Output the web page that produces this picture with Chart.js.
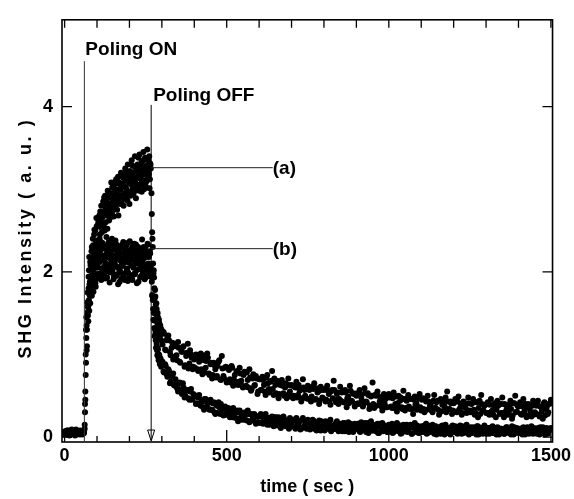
<!DOCTYPE html>
<html>
<head>
<meta charset="utf-8">
<script src="https://cdn.jsdelivr.net/npm/chart.js@4/dist/chart.umd.min.js"></script>
<style>
  html, body { margin: 0; padding: 0; background: #fff; }
  #wrap { width: 574px; height: 499px; }
</style>
</head>
<body>
<div id="wrap"><canvas id="c" width="574" height="499"></canvas></div>
<script>
// ---------- axis ticks ----------
const xTicks = [0, 500, 1000, 1500];
const xMinorTicks = [0,100,200,300,400,500,600,700,800,900,1000,1100,1200,1300,1400,1500];
const yTicks = [0, 2, 4];

// ---------- annotations (time in sec, intensity in a.u.) ----------
const polingOnTime = 61;
const polingOffTime = 267;
const labelLevelA = 3.26;
const labelLevelB = 2.28;
const labelLineEnd = 642;

// ---------- sample times (sec), first pass ----------
const timeBase = [0,5,10,15,20,25,30,35,40,45,50,55,60];
const timeRise = [62,64,66,68,70,72,74,76,78,80,82,84,86,88,90,92,94,96,98,100,
  102,104,106,108,110,112,114,116,118,120,122,124,126,128,130,132,134,136,138,140,
  142,144,146,148,150,152,154,156,158,160,162,164,166,168,170,172,174,176,178,180,
  182,184,186,188,190,192,194,196,198,200,202,204,206,208,210,212,214,216,218,220,
  222,224,226,228,230,232,234,236,238,240,242,244,246,248,250,252,254,256,258,260,
  262,264,266];
const timeFall = [268,270,272,274,276,278,280,282,284,286,288,290,292,294,296,298,300];
const timeTail = [305,310,315,320,325,330,335,340,345,350,
  355,360,365,370,375,380,385,390,395,400,
  405,410,415,420,425,430,435,440,445,450,
  455,460,465,470,475,480,485,490,495,500,
  505,510,515,520,525,530,535,540,545,550,
  555,560,565,570,575,580,585,590,595,600,
  605,610,615,620,625,630,635,640,645,650,
  655,660,665,670,675,680,685,690,695,700,
  705,710,715,720,725,730,735,740,745,750,
  755,760,765,770,775,780,785,790,795,800,
  805,810,815,820,825,830,835,840,845,850,
  855,860,865,870,875,880,885,890,895,900,
  905,910,915,920,925,930,935,940,945,950,
  955,960,965,970,975,980,985,990,995,1000,
  1005,1010,1015,1020,1025,1030,1035,1040,1045,1050,
  1055,1060,1065,1070,1075,1080,1085,1090,1095,1100,
  1105,1110,1115,1120,1125,1130,1135,1140,1145,1150,
  1155,1160,1165,1170,1175,1180,1185,1190,1195,1200,
  1205,1210,1215,1220,1225,1230,1235,1240,1245,1250,
  1255,1260,1265,1270,1275,1280,1285,1290,1295,1300,
  1305,1310,1315,1320,1325,1330,1335,1340,1345,1350,
  1355,1360,1365,1370,1375,1380,1385,1390,1395,1400,
  1405,1410,1415,1420,1425,1430,1435,1440,1445,1450,
  1455,1460,1465,1470,1475,1480,1485,1490,1495,1500];

// ---------- sample times (sec), second pass (interleaved) ----------
const timeBase2 = [2,7,12,17,22,27,32,37,42,47,52,57];
const timeRise2 = [63,65,67,69,71,73,75,77,79,81,83,85,87,89,91,93,95,97,99,101,
  103,105,107,109,111,113,115,117,119,121,123,125,127,129,131,133,135,137,139,141,
  143,145,147,149,151,153,155,157,159,161,163,165,167,169,171,173,175,177,179,181,
  183,185,187,189,191,193,195,197,199,201,203,205,207,209,211,213,215,217,219,221,
  223,225,227,229,231,233,235,237,239,241,243,245,247,249,251,253,255,257,259,261,
  263,265];
const timeFall2 = [269,271,273,275,277,279,281,283,285,287,289,291,293,295,297,299];
const timeTail2 = [302,307,312,317,322,327,332,337,342,347,
  352,357,362,367,372,377,382,387,392,397,
  402,407,412,417,422,427,432,437,442,447,
  452,457,462,467,472,477,482,487,492,497,
  502,507,512,517,522,527,532,537,542,547,
  552,557,562,567,572,577,582,587,592,597,
  602,607,612,617,622,627,632,637,642,647,
  652,657,662,667,672,677,682,687,692,697,
  702,707,712,717,722,727,732,737,742,747,
  752,757,762,767,772,777,782,787,792,797,
  802,807,812,817,822,827,832,837,842,847,
  852,857,862,867,872,877,882,887,892,897,
  902,907,912,917,922,927,932,937,942,947,
  952,957,962,967,972,977,982,987,992,997,
  1002,1007,1012,1017,1022,1027,1032,1037,1042,1047,
  1052,1057,1062,1067,1072,1077,1082,1087,1092,1097,
  1102,1107,1112,1117,1122,1127,1132,1137,1142,1147,
  1152,1157,1162,1167,1172,1177,1182,1187,1192,1197,
  1202,1207,1212,1217,1222,1227,1232,1237,1242,1247,
  1252,1257,1262,1267,1272,1277,1282,1287,1292,1297,
  1302,1307,1312,1317,1322,1327,1332,1337,1342,1347,
  1352,1357,1362,1367,1372,1377,1382,1387,1392,1397,
  1402,1407,1412,1417,1422,1427,1432,1437,1442,1447,
  1452,1457,1462,1467,1472,1477,1482,1487,1492,1497];

// ---------- series (a) SHG intensity ----------
const aBase = [0.06,0.04,0.08,0.05,0.03,0.07,0.05,0.09,0.04,0.06,0.05,0.08,0.06];
const aRise = [0.15,0.55,1.3,1.35,1.63,1.52,1.94,2.18,1.88,2.08,
  1.85,2.30,2.17,2.32,2.10,2.51,2.23,2.38,2.65,2.37,
  2.25,2.62,2.57,2.40,2.73,2.54,2.33,2.72,2.67,2.55,
  2.90,2.50,2.76,2.70,2.88,2.52,2.83,2.95,2.71,2.65,
  2.82,3.08,2.70,2.93,2.81,2.67,3.00,3.09,2.81,2.90,
  2.75,3.09,2.68,3.00,3.06,2.93,3.20,2.84,2.92,3.14,
  2.80,3.03,3.10,2.91,3.22,2.99,2.86,3.16,3.10,2.82,
  3.22,2.97,3.08,3.29,2.94,3.15,3.06,3.27,3.00,2.89,
  3.25,3.15,3.05,3.38,2.98,3.21,3.13,3.27,2.97,3.34,
  3.11,3.18,3.05,3.38,3.24,3.02,3.29,3.11,3.35,3.18,
  3.01,3.31,3.25];
const aFall = [2.95,2.48,2.30,1.98,1.93,1.68,1.70,1.49,1.55,1.38,1.45,1.29,1.38,1.22,1.32,1.17,1.27];
const aTail = [1.27,1.06,1.17,1.23,1.03,1.08,0.94,1.13,0.99,1.15,
  0.91,1.04,1.09,0.85,0.98,1.13,0.89,1.00,0.82,0.94,
  1.00,0.82,0.91,1.01,0.76,0.93,0.84,1.01,0.77,0.88,
  0.71,0.90,0.82,0.74,0.91,0.70,0.98,0.74,0.84,0.66,
  0.84,0.70,0.86,0.62,0.75,0.79,0.63,0.84,0.68,0.60,
  0.79,0.62,0.69,0.82,0.56,0.71,0.62,0.74,0.52,0.70,
  0.57,0.73,0.63,0.51,0.75,0.58,0.67,0.80,0.51,0.63,
  0.68,0.47,0.63,0.69,0.53,0.60,0.47,0.71,0.55,0.63,
  0.47,0.61,0.67,0.51,0.56,0.43,0.70,0.57,0.47,0.62,
  0.57,0.43,0.61,0.65,0.46,0.54,0.40,0.61,0.48,0.57,
  0.43,0.62,0.52,0.39,0.57,0.68,0.45,0.52,0.40,0.61,
  0.54,0.42,0.57,0.36,0.49,0.62,0.44,0.53,0.37,0.50,
  0.41,0.57,0.48,0.37,0.59,0.43,0.53,0.34,0.49,0.66,
  0.35,0.50,0.55,0.39,0.45,0.32,0.52,0.46,0.36,0.52,
  0.49,0.35,0.54,0.40,0.31,0.50,0.44,0.36,0.56,0.32,
  0.44,0.51,0.34,0.46,0.28,0.49,0.41,0.36,0.52,0.32,
  0.47,0.30,0.43,0.50,0.34,0.41,0.30,0.51,0.35,0.44,
  0.27,0.46,0.39,0.32,0.48,0.55,0.34,0.43,0.28,0.41,
  0.46,0.30,0.49,0.35,0.27,0.43,0.39,0.29,0.48,0.32,
  0.40,0.46,0.27,0.42,0.24,0.44,0.51,0.32,0.38,0.29,
  0.42,0.27,0.46,0.32,0.37,0.24,0.44,0.39,0.29,0.48,
  0.24,0.39,0.35,0.29,0.44,0.22,0.41,0.50,0.31,0.37,
  0.42,0.27,0.46,0.33,0.24,0.40,0.36,0.25,0.44,0.30,
  0.38,0.44,0.25,0.36,0.22,0.42,0.34,0.28,0.40,0.45];
const aBase2 = [0.05,0.08,0.04,0.06,0.09,0.05,0.07,0.03,0.06,0.08,0.05,0.07];
const aRise2 = [0.40,1.00,1.45,1.30,1.75,1.58,2.02,1.72,2.12,1.95,
  2.25,2.05,2.40,2.15,2.45,2.20,2.50,2.28,2.55,2.30,
  2.58,2.36,2.68,2.45,2.62,2.80,2.48,2.66,2.85,2.58,
  2.70,2.92,2.60,2.80,2.68,2.98,2.74,2.62,2.90,2.77,
  2.95,2.72,3.02,2.86,2.75,3.05,2.88,2.78,3.12,2.95,
  2.85,3.15,2.90,3.08,2.82,3.00,3.18,2.92,3.05,2.88,
  3.16,2.95,3.25,3.02,2.90,3.13,3.30,2.96,3.07,3.19,
  2.92,3.12,3.35,3.03,3.20,2.95,3.10,3.40,3.08,3.22,
  2.99,3.30,3.14,3.02,3.42,3.18,3.06,3.32,3.10,3.25,
  3.45,3.00,3.20,3.36,3.08,3.28,3.48,3.14,3.22,3.40,
  3.12,3.30];
const aFall2 = [2.70,2.40,2.10,2.02,1.80,1.78,1.60,1.62,1.47,1.50,1.36,1.42,1.30,1.35,1.25,1.30];
const aTail2 = [1.12,1.25,1.05,1.20,1.17,0.99,1.14,0.97,1.10,0.93,
  1.08,0.90,1.03,1.10,0.87,1.02,0.83,1.05,0.96,0.85,
  0.84,0.97,0.80,0.95,0.82,0.99,0.78,0.92,0.96,0.75,
  0.90,0.75,0.87,0.72,0.86,0.93,0.69,0.83,0.71,0.85,
  0.68,0.81,0.66,0.84,0.70,0.64,0.80,0.67,0.77,0.62,
  0.75,0.61,0.78,0.60,0.72,0.58,0.76,0.63,0.71,0.55,
  0.70,0.57,0.69,0.55,0.72,0.65,0.54,0.68,0.58,0.71,
  0.53,0.66,0.52,0.67,0.62,0.50,0.65,0.51,0.63,0.49,
  0.62,0.50,0.60,0.48,0.63,0.59,0.47,0.60,0.50,0.58,
  0.46,0.60,0.49,0.58,0.45,0.59,0.55,0.44,0.57,0.47,
  0.58,0.45,0.56,0.43,0.55,0.47,0.57,0.42,0.54,0.46,
  0.44,0.55,0.42,0.54,0.47,0.41,0.56,0.43,0.52,0.40,
  0.53,0.40,0.52,0.44,0.39,0.53,0.42,0.51,0.38,0.50,
  0.40,0.51,0.38,0.50,0.43,0.37,0.49,0.41,0.36,0.50,
  0.48,0.37,0.47,0.35,0.49,0.41,0.36,0.48,0.34,0.46,
  0.35,0.47,0.37,0.46,0.34,0.45,0.39,0.33,0.47,0.36,
  0.45,0.34,0.46,0.33,0.43,0.38,0.32,0.44,0.35,0.42,
  0.33,0.44,0.31,0.42,0.37,0.30,0.43,0.34,0.41,0.32,
  0.42,0.31,0.43,0.33,0.40,0.29,0.42,0.35,0.30,0.41,
  0.30,0.41,0.33,0.29,0.42,0.35,0.28,0.40,0.32,0.39,
  0.40,0.29,0.39,0.31,0.27,0.41,0.33,0.38,0.28,0.40,
  0.29,0.40,0.32,0.27,0.39,0.34,0.26,0.41,0.30,0.38,
  0.39,0.28,0.37,0.30,0.40,0.26,0.36,0.31,0.38,0.27,
  0.29,0.39,0.27,0.37,0.31,0.40,0.26,0.36,0.30,0.41];

// ---------- series (b) SHG intensity ----------
const bBase = [0.03,0.06,0.04,0.02,0.07,0.04,0.06,0.03,0.05,0.04,0.07,0.03,0.05];
const bRise = [0.10,0.45,0.9,1.05,1.49,1.47,1.80,1.53,1.76,1.93,
  1.77,1.71,2.18,1.93,2.07,1.90,2.21,1.82,2.12,2.21,
  2.06,2.31,1.96,2.21,2.13,2.36,2.04,1.95,2.29,2.19,
  2.06,2.32,1.92,2.21,2.27,2.01,2.17,2.36,2.08,1.99,
  2.25,2.13,2.40,2.03,2.20,1.94,2.30,2.15,2.07,2.33,
  1.97,2.21,2.27,2.03,1.88,2.22,2.16,2.08,2.33,1.97,
  2.23,2.11,1.90,2.28,2.18,2.03,2.35,1.99,2.14,1.94,
  2.26,2.20,2.08,1.92,2.31,2.05,2.22,1.98,2.16,2.33,
  2.02,2.10,2.27,1.88,2.19,2.24,2.06,1.95,2.21,2.13,
  2.00,2.30,2.04,2.17,1.93,2.25,2.09,2.34,2.01,2.18,
  1.97,2.22,2.07];
const bFall = [2.02,1.72,1.66,1.42,1.41,1.22,1.25,1.08,1.13,0.99,1.06,0.93,0.99,0.88,0.95,0.85,0.91];
const bTail = [0.79,0.88,0.76,0.82,0.65,0.74,0.77,0.62,0.65,0.55,
  0.66,0.55,0.65,0.48,0.56,0.57,0.45,0.58,0.46,0.51,
  0.40,0.49,0.51,0.38,0.43,0.33,0.46,0.41,0.34,0.45,
  0.33,0.42,0.28,0.38,0.42,0.28,0.34,0.26,0.37,0.29,
  0.35,0.24,0.31,0.35,0.24,0.30,0.19,0.32,0.24,0.29,
  0.21,0.27,0.32,0.18,0.28,0.22,0.28,0.16,0.25,0.18,
  0.28,0.17,0.22,0.28,0.15,0.23,0.18,0.25,0.13,0.22,
  0.16,0.24,0.13,0.21,0.25,0.14,0.19,0.13,0.23,0.15,
  0.21,0.12,0.23,0.14,0.19,0.10,0.23,0.13,0.17,0.21,
  0.11,0.17,0.21,0.10,0.18,0.13,0.20,0.08,0.18,0.13,
  0.19,0.10,0.16,0.21,0.09,0.14,0.10,0.19,0.07,0.16,
  0.10,0.17,0.07,0.15,0.18,0.08,0.13,0.06,0.16,0.11,
  0.16,0.07,0.18,0.10,0.14,0.06,0.17,0.09,0.19,0.08,
  0.13,0.07,0.16,0.05,0.14,0.17,0.08,0.12,0.06,0.15,
  0.08,0.16,0.06,0.13,0.17,0.07,0.14,0.05,0.15,0.10,
  0.15,0.07,0.12,0.04,0.14,0.17,0.06,0.11,0.05,0.13,
  0.06,0.14,0.16,0.05,0.11,0.08,0.15,0.04,0.13,0.09,
  0.12,0.04,0.14,0.07,0.15,0.05,0.11,0.03,0.13,0.10,
  0.13,0.05,0.10,0.14,0.04,0.11,0.08,0.15,0.06,0.09,
  0.05,0.12,0.09,0.03,0.13,0.07,0.11,0.04,0.14,0.08,
  0.11,0.04,0.09,0.13,0.05,0.08,0.12,0.03,0.10,0.06,
  0.04,0.10,0.12,0.05,0.09,0.13,0.03,0.08,0.11,0.06,
  0.10,0.05,0.12,0.03,0.08,0.11,0.06,0.13,0.04,0.09,
  0.06,0.11,0.03,0.09,0.12,0.05,0.10,0.04,0.08,0.11];
const bBase2 = [0.07,0.03,0.05,0.08,0.04,0.06,0.02,0.07,0.05,0.03,0.06,0.04];
const bRise2 = [0.30,0.75,1.20,1.10,1.58,1.40,1.66,1.85,1.62,1.72,
  1.95,1.83,2.02,1.76,2.25,1.98,1.86,2.30,2.05,1.92,
  2.18,2.38,1.98,2.12,2.26,1.90,2.20,2.35,2.02,2.14,
  1.96,2.28,2.10,2.42,1.93,2.18,2.05,2.30,1.87,2.22,
  2.09,2.35,2.00,2.16,1.91,2.27,2.12,2.38,1.95,2.06,
  2.24,1.85,2.19,2.31,2.01,2.13,1.92,2.29,2.07,2.36,
  1.94,2.17,2.25,1.99,2.32,2.04,1.89,2.21,2.11,2.37,
  1.96,2.15,2.28,1.90,2.23,2.08,2.34,1.97,2.12,2.26,
  1.86,2.19,2.30,2.03,2.14,1.93,2.27,2.09,2.39,1.98,
  2.16,2.24,1.91,2.29,2.05,2.20,1.95,2.33,2.10,2.02,
  2.25,1.94];
const bFall2 = [1.88,1.70,1.55,1.50,1.32,1.30,1.17,1.18,1.05,1.08,0.97,1.00,0.92,0.94,0.88,0.90];
const bTail2 = [0.91,0.78,0.86,0.73,0.80,0.67,0.74,0.63,0.70,0.59,
  0.58,0.65,0.52,0.60,0.50,0.57,0.47,0.55,0.45,0.52,
  0.50,0.41,0.48,0.39,0.45,0.36,0.46,0.35,0.41,0.33,
  0.33,0.41,0.30,0.39,0.29,0.36,0.40,0.28,0.35,0.27,
  0.34,0.26,0.33,0.24,0.30,0.23,0.32,0.22,0.29,0.21,
  0.22,0.30,0.20,0.28,0.19,0.27,0.20,0.26,0.18,0.25,
  0.17,0.25,0.16,0.24,0.18,0.23,0.15,0.22,0.17,0.24,
  0.24,0.14,0.20,0.11,0.17,0.22,0.13,0.19,0.10,0.16,
  0.13,0.20,0.10,0.18,0.15,0.09,0.21,0.12,0.17,0.10,
  0.18,0.09,0.15,0.20,0.11,0.08,0.17,0.13,0.19,0.10,
  0.08,0.16,0.12,0.19,0.07,0.14,0.10,0.17,0.09,0.15,
  0.12,0.07,0.17,0.10,0.14,0.06,0.16,0.11,0.08,0.15,
  0.10,0.16,0.06,0.13,0.09,0.17,0.11,0.05,0.14,0.08,
  0.15,0.09,0.12,0.05,0.16,0.10,0.07,0.14,0.11,0.06,
  0.09,0.14,0.05,0.12,0.08,0.15,0.10,0.04,0.13,0.07,
  0.13,0.06,0.10,0.15,0.04,0.11,0.08,0.14,0.05,0.10,
  0.07,0.12,0.09,0.04,0.14,0.06,0.11,0.08,0.13,0.03,
  0.11,0.06,0.13,0.09,0.03,0.12,0.07,0.10,0.05,0.14,
  0.06,0.10,0.04,0.12,0.08,0.13,0.05,0.09,0.11,0.03,
  0.12,0.05,0.09,0.07,0.13,0.03,0.10,0.06,0.12,0.08,
  0.04,0.11,0.07,0.12,0.05,0.09,0.03,0.11,0.06,0.10,
  0.09,0.04,0.12,0.06,0.10,0.03,0.08,0.12,0.05,0.09,
  0.05,0.10,0.03,0.11,0.07,0.12,0.04,0.09,0.06,0.11,
  0.10,0.04,0.08,0.12,0.05,0.09,0.03,0.11,0.07,0.10];

// ---------- build point lists ----------
const timeSec = [].concat(timeBase, timeRise, timeFall, timeTail,
                          timeBase2, timeRise2, timeFall2, timeTail2);
const seriesA = [].concat(aBase, aRise, aFall, aTail, aBase2, aRise2, aFall2, aTail2);
const seriesB = [].concat(bBase, bRise, bFall, bTail, bBase2, bRise2, bFall2, bTail2);
const toPoints = vals => timeSec.map((t, i) => ({ x: t, y: vals[i] }));

const FONT = '"Liberation Sans", Arial, Helvetica, sans-serif';

const decorations = {
  id: 'decorations',
  afterDatasetsDraw(chart) {
    const { ctx, chartArea: a, scales: { x, y } } = chart;
    ctx.save();
    // frame
    ctx.strokeStyle = '#000';
    ctx.lineWidth = 1.6;
    ctx.strokeRect(a.left, a.top, a.right - a.left, a.bottom - a.top);
    // x ticks (inward)
    ctx.lineWidth = 1.3;
    xMinorTicks.forEach(v => {
      const px = x.getPixelForValue(v);
      const major = xTicks.includes(v);
      ctx.beginPath();
      ctx.moveTo(px, a.bottom); ctx.lineTo(px, a.bottom - (major ? 12 : 6));
      ctx.moveTo(px, a.top); ctx.lineTo(px, a.top + 8);
      ctx.stroke();
    });
    // y ticks (inward)
    yTicks.forEach(v => {
      const py = y.getPixelForValue(v);
      ctx.beginPath();
      ctx.moveTo(a.left, py); ctx.lineTo(a.left + 10, py);
      ctx.moveTo(a.right, py); ctx.lineTo(a.right - 10, py);
      ctx.stroke();
    });

    // Poling ON line
    const xOn = x.getPixelForValue(polingOnTime);
    ctx.strokeStyle = '#333';
    ctx.lineWidth = 1;
    ctx.beginPath();
    ctx.moveTo(xOn, y.getPixelForValue(4.55));
    ctx.lineTo(xOn, a.bottom);
    ctx.stroke();

    // Poling OFF arrow
    const xOff = x.getPixelForValue(polingOffTime);
    ctx.strokeStyle = '#000';
    ctx.beginPath();
    ctx.moveTo(xOff, y.getPixelForValue(4.02));
    ctx.lineTo(xOff, a.bottom - 2);
    ctx.stroke();
    ctx.beginPath();
    ctx.moveTo(xOff, a.bottom - 1);
    ctx.lineTo(xOff - 3.5, a.bottom - 12);
    ctx.lineTo(xOff + 3.5, a.bottom - 12);
    ctx.closePath();
    ctx.stroke();

    // label leader lines
    const xEnd = x.getPixelForValue(labelLineEnd);
    const yA = y.getPixelForValue(labelLevelA);
    const yB = y.getPixelForValue(labelLevelB);
    ctx.strokeStyle = '#222';
    ctx.beginPath();
    ctx.moveTo(xOff, yA); ctx.lineTo(xEnd, yA);
    ctx.moveTo(xOff, yB); ctx.lineTo(xEnd, yB);
    ctx.stroke();

    // texts
    ctx.fillStyle = '#000';
    ctx.font = 'bold 19px ' + FONT;
    ctx.textAlign = 'left';
    ctx.textBaseline = 'alphabetic';
    ctx.fillText('Poling ON', xOn + 1, y.getPixelForValue(4.62));
    ctx.fillText('Poling OFF', xOff + 2, y.getPixelForValue(4.07));
    ctx.textBaseline = 'middle';
    ctx.fillText('(a)', xEnd, yA + 1);
    ctx.fillText('(b)', xEnd, yB + 1);

    // axis titles
    ctx.font = 'bold 18px ' + FONT;
    ctx.textAlign = 'center';
    ctx.textBaseline = 'middle';
    ctx.fillText('time ( sec )', (a.left + a.right) / 2, 487);
    ctx.save();
    ctx.translate(26, 238);
    ctx.rotate(-Math.PI / 2);
    ctx.letterSpacing = '2.6px';
    ctx.fillText('SHG Intensity ( a. u. )', 0, 0);
    ctx.restore();
    ctx.restore();
  }
};

new Chart(document.getElementById('c'), {
  type: 'scatter',
  data: {
    datasets: [
      { label: '(a)', data: toPoints(seriesA), backgroundColor: '#000', borderWidth: 0, pointRadius: 3 },
      { label: '(b)', data: toPoints(seriesB), backgroundColor: '#000', borderWidth: 0, pointRadius: 3 }
    ]
  },
  options: {
    responsive: false,
    devicePixelRatio: 1,
    animation: false,
    events: [],
    layout: { padding: { left: 0, right: 21, top: 13, bottom: 0 } },
    plugins: { legend: { display: false }, tooltip: { enabled: false } },
    scales: {
      x: {
        type: 'linear', min: -8, max: 1505,
        grid: { display: false, drawTicks: false },
        border: { display: false },
        afterBuildTicks: s => { s.ticks = xTicks.map(v => ({ value: v })); },
        afterFit: s => { s.height = 57; },
        ticks: { color: '#000', padding: 3, maxRotation: 0, callback: v => String(v),
                 font: { family: FONT, size: 18, weight: 'bold' } }
      },
      y: {
        type: 'linear', min: -0.06, max: 5.05,
        grid: { display: false, drawTicks: false },
        border: { display: false },
        afterBuildTicks: s => { s.ticks = yTicks.map(v => ({ value: v })); },
        afterFit: s => { s.width = 62; },
        ticks: { color: '#000', padding: 9, callback: v => String(v),
                 font: { family: FONT, size: 18, weight: 'bold' } }
      }
    }
  },
  plugins: [decorations]
});
</script>
</body>
</html>
